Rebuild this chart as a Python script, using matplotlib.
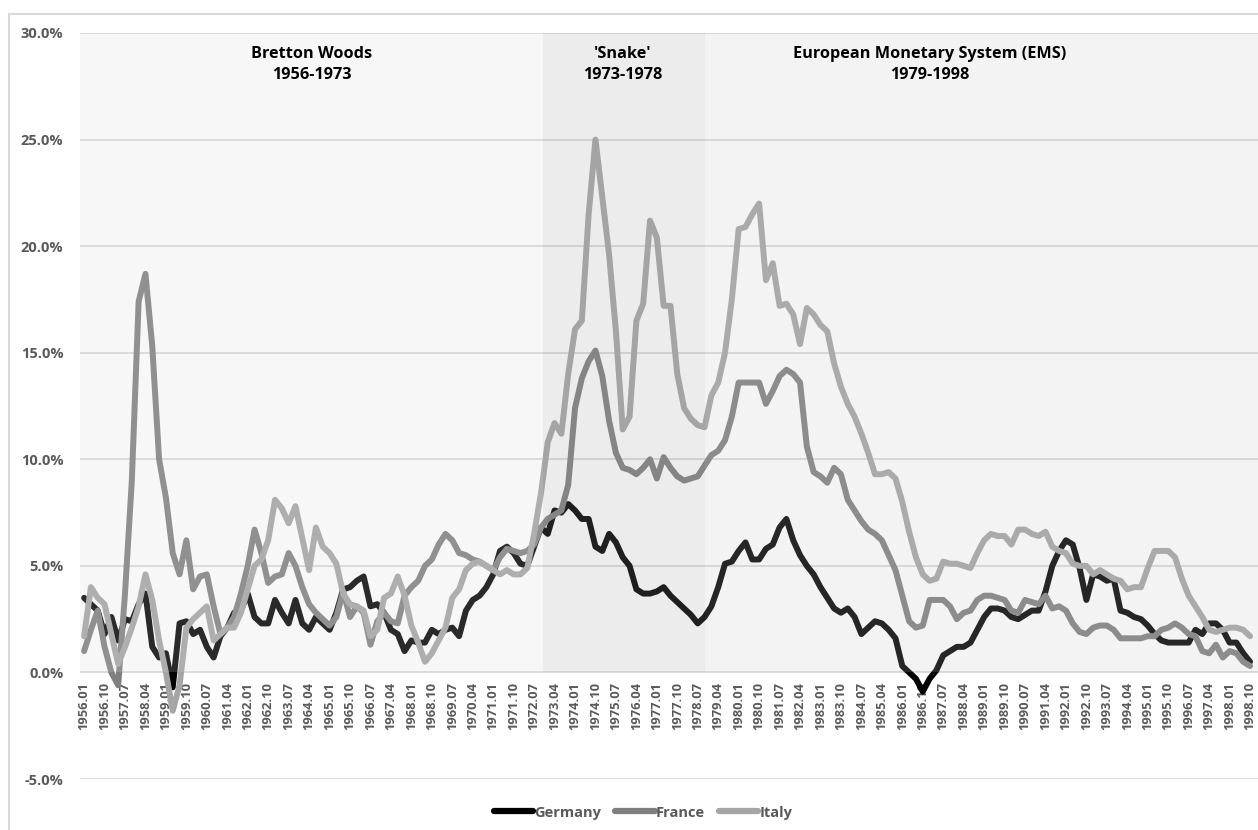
import matplotlib
matplotlib.use("Agg")
import matplotlib.pyplot as plt
from matplotlib.patches import Rectangle
from matplotlib.lines import Line2D

# quarterly observations, 1956.01 .. 1998.10
dates = ["{}.{:02d}".format(y, m) for y in range(1956, 1999) for m in (1, 4, 7, 10)]

germany = [
    3.5, 3.2, 2.9, 1.8, 2.6, 1.5, 2.5, 2.4, 3.2, 3.7, 1.2, 0.7, 0.9, -0.7, 2.3, 2.4,
    1.8, 2.0, 1.2, 0.7, 1.7, 2.1, 2.8, 2.9, 3.7, 2.6, 2.3, 2.3, 3.4, 2.8, 2.3, 3.4,
    2.3, 2.0, 2.6, 2.3, 2.0, 2.8, 3.9, 4.0, 4.3, 4.5, 3.1, 3.2,
    2.8, 2.0, 1.8, 1.0, 1.5, 1.4, 1.4, 2.0, 1.8, 2.0, 2.1, 1.7, 2.9, 3.4, 3.6, 4.0,
    4.6, 5.7, 5.9, 5.6, 5.1, 5.0, 5.9, 6.8, 6.5, 7.6, 7.5, 7.9, 7.6, 7.2, 7.2, 5.9,
    5.7, 6.5, 6.1, 5.4, 5.0, 3.9, 3.7, 3.7,
    3.8, 4.0, 3.6, 3.3, 3.0, 2.7, 2.3, 2.6, 3.1, 4.0, 5.1, 5.2, 5.7, 6.1, 5.3, 5.3,
    5.8, 6.0, 6.8, 7.2, 6.2, 5.5, 5.0, 4.6, 4.0, 3.5, 3.0, 2.8, 3.0, 2.6, 1.8, 2.1,
    2.4, 2.3, 2.0, 1.6, 0.3, 0.0, -0.3, -0.9, -0.3, 0.1, 0.8, 1.0, 1.2,
    1.2, 1.4, 2.0, 2.6, 3.0, 3.0, 2.9, 2.6, 2.5, 2.7, 2.9, 2.9, 3.8, 5.0, 5.7, 6.2,
    6.0, 4.9, 3.4, 4.6, 4.5, 4.3, 4.4, 2.9, 2.8, 2.6, 2.5, 2.2, 1.8, 1.5, 1.4, 1.4,
    1.4, 1.4, 2.0, 1.8, 2.3, 2.3, 2.0, 1.4, 1.4, 0.9, 0.5,
]

france = [
    1.0, 2.0, 2.9, 1.2, 0.0, -0.6, 3.7, 9.0, 17.4, 18.7, 15.3, 10.0, 8.2, 5.6, 4.6, 6.2,
    3.9, 4.5, 4.6, 3.1, 1.8, 2.1, 2.6, 3.7, 5.0, 6.7, 5.6, 4.2, 4.5, 4.6, 5.6, 5.0,
    4.0, 3.2, 2.8, 2.5, 2.2, 2.6, 3.8, 2.6, 3.1, 2.8, 1.3, 2.4,
    2.8, 2.4, 2.3, 3.6, 4.0, 4.3, 5.0, 5.3, 6.0, 6.5, 6.2, 5.6, 5.5, 5.3, 5.2, 5.0,
    4.8, 5.4, 5.8, 5.7, 5.6, 5.7, 6.0, 6.8, 7.2, 7.4, 7.6, 8.8, 12.4, 13.8, 14.6, 15.1,
    13.9, 11.8, 10.3, 9.6, 9.5, 9.3, 9.6, 10.0,
    9.1, 10.1, 9.6, 9.2, 9.0, 9.1, 9.2, 9.7, 10.2, 10.4, 10.9, 12.0, 13.6, 13.6, 13.6, 13.6,
    12.6, 13.2, 13.9, 14.2, 14.0, 13.6, 10.6, 9.4, 9.2, 8.9, 9.6, 9.3, 8.1, 7.6, 7.1, 6.7,
    6.5, 6.2, 5.5, 4.8, 3.6, 2.4, 2.1, 2.2, 3.4, 3.4, 3.4, 3.1, 2.5,
    2.8, 2.9, 3.4, 3.6, 3.6, 3.5, 3.4, 2.9, 2.8, 3.4, 3.3, 3.2, 3.6, 3.0, 3.1, 2.9,
    2.3, 1.9, 1.8, 2.1, 2.2, 2.2, 2.0, 1.6, 1.6, 1.6, 1.6, 1.7, 1.7, 2.0, 2.1, 2.3,
    2.1, 1.8, 1.7, 1.0, 0.9, 1.3, 0.7, 1.0, 0.9, 0.5, 0.3,
]

italy = [
    1.7, 4.0, 3.5, 3.2, 1.8, 0.4, 1.2, 2.1, 3.1, 4.6, 3.4, 1.5, 0.0, -1.8, -0.6, 2.1,
    2.5, 2.8, 3.1, 1.5, 1.8, 2.1, 2.1, 2.8, 3.9, 5.0, 5.3, 6.2, 8.1, 7.7, 7.0, 7.8,
    6.3, 4.8, 6.8, 5.9, 5.6, 5.1, 3.7, 3.2, 3.1, 2.9, 1.7, 2.0,
    3.5, 3.7, 4.5, 3.6, 2.2, 1.4, 0.5, 0.9, 1.5, 2.1, 3.5, 3.9, 4.8, 5.1, 5.2, 5.0,
    4.8, 4.6, 4.8, 4.6, 4.6, 4.9, 6.5, 8.4, 10.8, 11.7, 11.2, 14.0, 16.1, 16.5, 21.5, 25.0,
    22.3, 19.6, 16.0, 11.4, 12.0, 16.5, 17.3, 21.2,
    20.4, 17.2, 17.2, 14.0, 12.4, 11.9, 11.6, 11.5, 13.0, 13.6, 15.0, 17.5, 20.8, 20.9, 21.5, 22.0,
    18.4, 19.2, 17.2, 17.3, 16.8, 15.4, 17.1, 16.8, 16.3, 16.0, 14.5, 13.4, 12.6, 12.0, 11.2, 10.3,
    9.3, 9.3, 9.4, 9.1, 8.0, 6.6, 5.4, 4.6, 4.3, 4.4, 5.2, 5.1, 5.1,
    5.0, 4.9, 5.6, 6.2, 6.5, 6.4, 6.4, 6.0, 6.7, 6.7, 6.5, 6.4, 6.6, 5.9, 5.7, 5.6,
    5.1, 5.0, 5.0, 4.6, 4.8, 4.6, 4.4, 4.3, 3.9, 4.0, 4.0, 4.9, 5.7, 5.7, 5.7, 5.4,
    4.4, 3.6, 3.1, 2.6, 2.0, 1.9, 2.0, 2.1, 2.1, 2.0, 1.7,
]

series_names = ["Germany", "France", "Italy"]
series_colors = ["#000000", "#7f7f7f", "#a5a5a5"]

# exchange-rate regimes, shaded from 0% to 30%
period_labels = ["Bretton Woods\n1956-1973", "'Snake'\n1973-1978",
                 "European Monetary System (EMS)\n1979-1998"]
period_breaks = ["1972.11", "1978.10"]
period_label_at = ["1964.05", "1975.10", "1987.01"]
period_shades = ["#d7d7d7", "#a0a0a0", "#c3c3c3"]

y_ticks = [-5, 0, 5, 10, 15, 20, 25, 30]


def month_index(s):
    y, m = s.split(".")
    return (int(y) - 1956) * 12 + int(m) - 1


plt.rcParams['font.family'] = ['Open Sans', 'DejaVu Sans']
plt.rcParams['font.weight'] = 'bold'

x = [month_index(d) for d in dates]
x_lo, x_hi = -1.8, 516.5

fig = plt.figure(figsize=(12.58, 8.30), dpi=100)
ax = fig.add_axes([80 / 1258, 1 - 779 / 830, 1 - 80 / 1258, (779 - 33) / 830])

ax.set_xlim(x_lo, x_hi)
ax.set_ylim(-5, 30)
ax.set_yticks(y_ticks)
ax.set_yticklabels(["{:.1f}%".format(v) for v in y_ticks], fontweight='bold')
ax.grid(axis='y', color='#d9d9d9', linewidth=1.3, zorder=0)
ax.set_axisbelow(True)

for vals, color in zip([germany, france, italy], series_colors):
    ax.plot(x, vals, color=color, linewidth=4.3, solid_joinstyle='round',
            solid_capstyle='round', zorder=2)

# translucent regime bands over the lines
edges = [x_lo] + [month_index(b) for b in period_breaks] + [x_hi]
for i, shade in enumerate(period_shades):
    ax.add_patch(Rectangle((edges[i], 0), edges[i + 1] - edges[i], 30,
                           facecolor=shade, alpha=0.2, edgecolor='none', zorder=3))
for label, at in zip(period_labels, period_label_at):
    ax.text(month_index(at), 29.4, label, ha='center', va='top', fontsize=11.7,
            fontweight='bold', color='black', linespacing=1.45, zorder=4)

ax.set_xticks(x[::3])
ax.set_xticklabels(dates[::3], fontweight='bold')
ax.spines['bottom'].set_position(('data', 0))
for side in ['top', 'right', 'left', 'bottom']:
    ax.spines[side].set_visible(False)
ax.tick_params(axis='x', length=0, pad=7, labelrotation=90, labelsize=9.3,
               labelcolor='#595959')
ax.tick_params(axis='y', length=0, pad=12, labelsize=10.5, labelcolor='#595959')

handles = [Line2D([0], [0], color=c, linewidth=4.5, solid_capstyle='round')
           for c in series_colors]
leg = fig.legend(handles, series_names, loc='center', bbox_to_anchor=(0.511, 0.021),
                 ncol=3, frameon=False, handlelength=2.7, handletextpad=0.05,
                 columnspacing=1.0, prop={'size': 10.5, 'weight': 'bold'})
for t in leg.get_texts():
    t.set_color('#595959')

fig.patches.append(Rectangle((9 / 1258, -0.05), 1.2, (830 - 14) / 830 + 0.05,
                             transform=fig.transFigure, fill=False,
                             edgecolor='#d9d9d9', linewidth=1.5))

fig.savefig("out.png", dpi=100, facecolor='white')
